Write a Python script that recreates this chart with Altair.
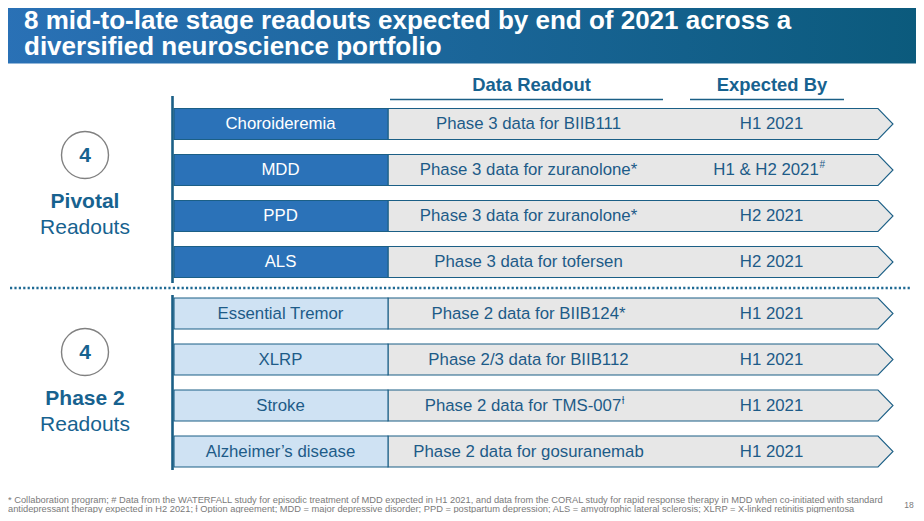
import altair as alt
import pandas as pd

# ---------------- data ----------------
title_lines = ["8 mid-to-late stage readouts expected by end of 2021 across a",
               "diversified neuroscience portfolio"]
headers = ["Data Readout", "Expected By"]
categories = ["Choroideremia", "MDD", "PPD", "ALS",
              "Essential Tremor", "XLRP", "Stroke", "Alzheimer\u2019s disease"]
readouts = ["Phase 3 data for BIIB111", "Phase 3 data for zuranolone*",
            "Phase 3 data for zuranolone*", "Phase 3 data for tofersen",
            "Phase 2 data for BIIB124*", "Phase 2/3 data for BIIB112",
            "Phase 2 data for TMS-007", "Phase 2 data for gosuranemab"]
readout_sup = ["", "", "", "", "", "", "\u019a", ""]
expected = ["H1 2021", "H1 & H2 2021", "H2 2021", "H2 2021",
            "H1 2021", "H1 2021", "H1 2021", "H1 2021"]
expected_sup = ["", "#", "", "", "", "", "", ""]
groups = ["Pivotal"] * 4 + ["Phase 2"] * 4
group_names = ["Pivotal", "Phase 2"]
group_counts = [4, 4]
footnotes = [
    "* Collaboration program; # Data from the WATERFALL study for episodic treatment of MDD expected in H1 2021, and data from the CORAL study for rapid response therapy in MDD when co-initiated with standard",
    "antidepressant therapy expected in H2 2021; \u019a Option agreement; MDD = major depressive disorder; PPD = postpartum depression; ALS = amyotrophic lateral sclerosis; XLRP = X-linked retinitis pigmentosa",
]
page_number = "18"

# ---------------- layout / style ----------------
W, H = 908, 505
FONT = "Liberation Sans, Arial, sans-serif"
NARROW = "Liberation Sans Narrow, Arial Narrow, Liberation Sans, Arial, sans-serif"
DARK = "#1b5f86"
TXT = "#1d5b88"
HEAD = "#17628f"
BLUE = "#2b72b8"
LIGHT = "#cfe2f3"
GRAY = "#e7e7e7"
ROWFS = 16.8

group_y0 = {"Pivotal": 124.0, "Phase 2": 313.5}
ROW_STEP = 46.0
ROW_H = 31.0
CAT_X0, CAT_X1 = 174.0, 388.0
ARR_X0, ARR_BODY, ARR_TIP = 388.0, 878.0, 893.0
CAT_CX, READ_CX, EXP_CX = 280.5, 528.5, 771.5

xs = alt.Scale(domain=[8, 8 + W], nice=False, zero=False)
ys = alt.Scale(domain=[8, 8 + H], nice=False, zero=False, reverse=True)


def X(f):
    return alt.X(f, type="quantitative", scale=xs, axis=None)


def Y(f):
    return alt.Y(f, type="quantitative", scale=ys, axis=None)


# rows table
rows = pd.DataFrame({
    "cat": categories, "readout": readouts, "rsup": readout_sup,
    "expected": expected, "esup": expected_sup, "group": groups,
})
rows["i"] = rows.groupby("group").cumcount()
rows["yc"] = [group_y0[g] + ROW_STEP * i for g, i in zip(rows["group"], rows["i"])]
rows["y0"] = rows["yc"] - ROW_H / 2
rows["y1"] = rows["yc"] + ROW_H / 2
rows["cx0"] = CAT_X0
rows["cx1"] = CAT_X1
rows["ax"] = (ARR_X0 + ARR_TIP) / 2
rows["catc"] = CAT_CX
rows["fill"] = [BLUE if g == "Pivotal" else LIGHT for g in rows["group"]]
rows["catcolor"] = ["white" if g == "Pivotal" else TXT for g in rows["group"]]
# superscript handling: shift main text so text+sup stay centered
rows["rx"] = [READ_CX - (5.5 if s else 0) for s in rows["rsup"]]
rows["ex"] = [EXP_CX - (5.5 if s else 0) for s in rows["esup"]]
rows["rsx"] = [622.0 if s else None for s in rows["rsup"]]
rows["esx"] = [819.5 if s else None for s in rows["esup"]]
rows["sy"] = rows["yc"] - 5

# arrow shape in unit coords
arr_w = ARR_TIP - ARR_X0
body = (ARR_BODY - ARR_X0) / arr_w * 2 - 1
hh = (ROW_H / 2) / (arr_w / 2)
arrow_path = f"M-1,{-hh:.5f}L{body:.5f},{-hh:.5f}L1,0L{body:.5f},{hh:.5f}L-1,{hh:.5f}Z"

# banner
banner = alt.Chart(pd.DataFrame({"x": [0], "x2": [924], "y": [0], "y2": [63.5]})).mark_rect(
    color=alt.LinearGradient(
        gradient="linear", x1=0, x2=1, y1=0, y2=0,
        stops=[alt.GradientStop(color="#2a71b6", offset=0),
               alt.GradientStop(color="#0b5a7c", offset=1)]),
).encode(x=X("x"), x2="x2", y=Y("y"), y2="y2")

title = alt.Chart(pd.DataFrame({"t": title_lines, "x": [24, 24], "y": [29, 54.5]})).mark_text(
    align="left", baseline="alphabetic", font=NARROW, fontSize=26, fontWeight="bold", color="white"
).encode(x=X("x"), y=Y("y"), text="t")

# headers
head_df = pd.DataFrame({"t": headers, "x": [531.5, 772], "y": [85, 85]})
head = alt.Chart(head_df).mark_text(
    align="center", baseline="middle", font=FONT, fontSize=18.4, fontWeight="bold", color=HEAD
).encode(x=X("x"), y=Y("y"), text="t")
under = alt.Chart(pd.DataFrame({"x": [390, 690], "x2": [663, 844], "y": [99.5, 99.5]})).mark_rule(
    color=DARK, strokeWidth=1.5).encode(x=X("x"), x2="x2", y=Y("y"))

# vertical rules and dotted separator
vr = alt.Chart(pd.DataFrame({"x": [172.5, 172.5], "y": [96, 295], "y2": [283, 470]})).mark_rule(
    color=DARK, strokeWidth=2.6).encode(x=X("x"), y=Y("y"), y2="y2")
dots = alt.Chart(pd.DataFrame({"x": [10], "x2": [911], "y": [288]})).mark_rule(
    color="#1f6a94", strokeWidth=2.5, strokeDash=[2.2, 2.2]).encode(x=X("x"), x2="x2", y=Y("y"))

# left group labels
gdf = pd.DataFrame({"g": group_names, "n": [str(c) for c in group_counts]})
gdf["cy"] = [155.0, 352.0]
gdf["ly1"] = gdf["cy"] + 47
gdf["ly2"] = gdf["cy"] + 73
gdf["x"] = 85.0
gdf["sub"] = "Readouts"
circ = alt.Chart(gdf).mark_point(shape="circle", size=47 * 47, filled=False, stroke="#808080",
                                 strokeWidth=1.4, opacity=1).encode(x=X("x"), y=Y("cy"))
num = alt.Chart(gdf).mark_text(align="center", baseline="middle", font=FONT, fontSize=21,
                               fontWeight="bold", color=HEAD, dy=1).encode(x=X("x"), y=Y("cy"), text="n")
gl1 = alt.Chart(gdf).mark_text(align="center", baseline="middle", font=FONT, fontSize=21,
                               fontWeight="bold", color=HEAD).encode(x=X("x"), y=Y("ly1"), text="g")
gl2 = alt.Chart(gdf).mark_text(align="center", baseline="middle", font=FONT, fontSize=21,
                               color=HEAD).encode(x=X("x"), y=Y("ly2"), text="sub")

# rows
base = alt.Chart(rows)
arrows = base.mark_point(shape=arrow_path, size=arr_w * arr_w, filled=True, fill=GRAY,
                         stroke=DARK, strokeWidth=1.1, opacity=1).encode(x=X("ax"), y=Y("yc"))
catbox = base.mark_rect(stroke=DARK, strokeWidth=1.1).encode(
    x=X("cx0"), x2="cx1", y=Y("y0"), y2="y1", fill=alt.Fill("fill:N", scale=None))
cattxt = base.mark_text(align="center", baseline="middle", font=FONT, fontSize=ROWFS).encode(
    x=X("catc"), y=Y("yc"), text="cat", color=alt.Color("catcolor:N", scale=None))
rtxt = base.mark_text(align="center", baseline="middle", font=FONT, fontSize=ROWFS, color=TXT).encode(
    x=X("rx"), y=Y("yc"), text="readout")
etxt = base.mark_text(align="center", baseline="middle", font=FONT, fontSize=ROWFS, color=TXT).encode(
    x=X("ex"), y=Y("yc"), text="expected")
rsup = alt.Chart(rows[rows["rsup"] != ""]).mark_text(
    align="left", baseline="middle", font=FONT, fontSize=10, color=TXT).encode(
    x=X("rsx"), y=Y("sy"), text="rsup")
esup = alt.Chart(rows[rows["esup"] != ""]).mark_text(
    align="left", baseline="middle", font=FONT, fontSize=10, color=TXT).encode(
    x=X("esx"), y=Y("sy"), text="esup")

# footnotes
fdf = pd.DataFrame({"t": footnotes, "x": [8, 8], "y": [500, 509]})
foot = alt.Chart(fdf).mark_text(align="left", baseline="middle", font=NARROW, fontSize=9.3,
                                color="#7a7a7a").encode(x=X("x"), y=Y("y"), text="t")
page = alt.Chart(pd.DataFrame({"t": [page_number], "x": [909], "y": [505]})).mark_text(
    align="center", baseline="middle", font=NARROW, fontSize=8.5, color="#7a7a7a").encode(
    x=X("x"), y=Y("y"), text="t")

chart = alt.layer(
    banner, title, head, under, vr, dots, circ, num, gl1, gl2,
    arrows, catbox, cattxt, rtxt, etxt, rsup, esup, foot, page
).properties(width=W, height=H, padding=0, autosize=alt.AutoSizeParams(type="none")
).configure_view(stroke=None)

chart.save("out.html", embed_options={"renderer": "svg", "actions": False})
